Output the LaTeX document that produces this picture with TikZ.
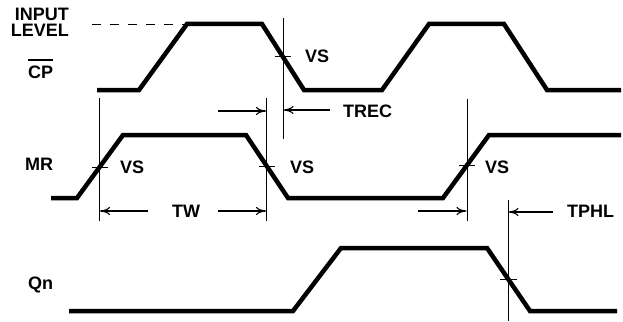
\documentclass[tikz,border=0pt]{standalone}
\usepackage{fontspec}
\setmainfont{Liberation Sans}
\usetikzlibrary{arrows.meta}
\begin{document}
\begin{tikzpicture}[x=1pt,y=-1pt,
  wave/.style={line width=4.5pt, line join=miter},
  thinline/.style={line width=1pt},
  dim/.style={line width=1.1pt,-{To[length=10pt,width=8pt,line width=1.1pt]}},
  lbl/.style={font=\fontsize{18}{16}\selectfont\bfseries, inner sep=0pt, anchor=base west},
]
\useasboundingbox (0,0) rectangle (623,321);

% waveforms
\draw[wave] (97,90) -- (139,90) -- (187,24) -- (262,24) -- (304,90) -- (382,90) -- (429,24) -- (504,24) -- (547,90) -- (621,90);
\draw[wave] (51,198) -- (77,198) -- (123,135) -- (246,135) -- (288,198) -- (443,198) -- (489,135) -- (621,135);
\draw[wave] (69,311) -- (293,311) -- (341,248) -- (487,248) -- (530,311) -- (617,311);

% dashed input level
\draw[thinline, dash pattern=on 9pt off 9pt] (92,24.5) -- (187,24.5);

% labels
\node[lbl, anchor=north east, align=right] (input) at (69,7.5) {INPUT\\LEVEL};
\node[lbl] (cp) at (28,78) {CP};
\draw[line width=1.5pt] ([yshift=5pt]cp.north west) -- ([yshift=5pt]cp.north east);
\node[lbl] (mr) at (25,170) {MR};
\node[lbl] (qn) at (28,289) {Qn};

% marker lines
\coordinate (a1) at (99.5,98);  \coordinate (a2) at (99.5,221);
\coordinate (b1) at (266.5,98); \coordinate (b2) at (266.5,221);
\coordinate (c1) at (283,18);   \coordinate (c2) at (283,139);
\coordinate (d1) at (467,99);   \coordinate (d2) at (467,221);
\coordinate (e1) at (508,200);  \coordinate (e2) at (508,321);
\foreach \p in {a,b,c,d,e} \draw[thinline] (\p1) -- (\p2);

% VS ticks
\draw[thinline] (275,56.5) -- (291,56.5);
\draw[thinline] (92,167) -- (108,167);
\draw[thinline] (259,166) -- (275,166);
\draw[thinline] (459,165) -- (475,165);
\draw[thinline] (500,279) -- (517,279);

\node[lbl] (vs1) at (305,63) {VS};
\node[lbl] (vs2) at (120,173) {VS};
\node[lbl] (vs3) at (290,173) {VS};
\node[lbl] (vs4) at (485,173) {VS};
\node[lbl] (trec) at (343,117) {TREC};
\node[lbl] (tw) at (172,217) {TW};
\node[lbl] (tphl) at (567,217) {TPHL};

% dimension arrows
\coordinate (t1s) at (218,111); \coordinate (t1e) at (266,111);
\coordinate (t2s) at (330,110); \coordinate (t2e) at (283.5,110);
\coordinate (w1s) at (148,211); \coordinate (w1e) at (100,211);
\coordinate (w2s) at (218,211); \coordinate (w2e) at (266,211);
\coordinate (r3s) at (418,211); \coordinate (r3e) at (466.5,211);
\coordinate (p1s) at (553,212); \coordinate (p1e) at (508.5,212);
\foreach \p in {t1,t2,w1,w2,r3,p1} \draw[dim] (\p s) -- (\p e);
\end{tikzpicture}
\end{document}
